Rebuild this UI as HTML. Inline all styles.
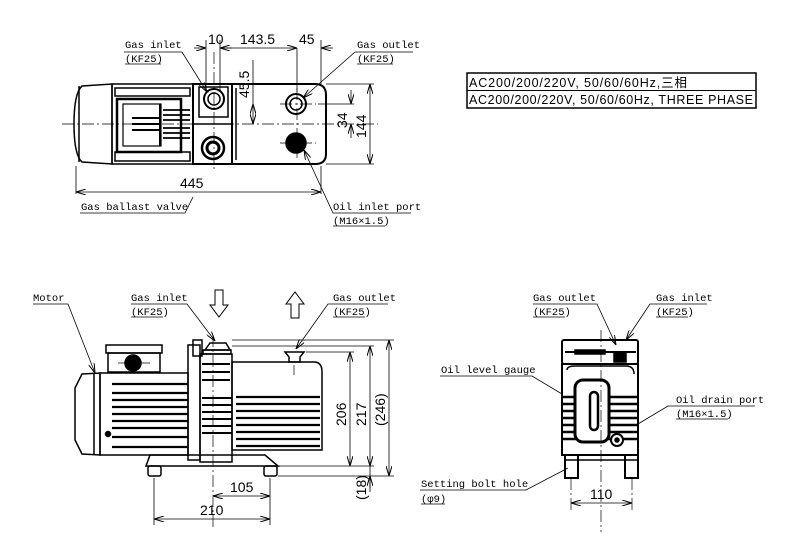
<!DOCTYPE html>
<html><head><meta charset="utf-8"><style>
html,body{margin:0;padding:0;background:#fff}
svg{display:block}
text{font-family:"Liberation Mono","Noto Sans CJK JP",monospace;font-size:10.5px;fill:#000;stroke:none}
.d{font-family:"Liberation Sans",sans-serif;font-size:14px}
</style></head><body>
<svg width="800" height="556" viewBox="0 0 800 556" xmlns="http://www.w3.org/2000/svg" stroke="#000" fill="none">
<defs>
<marker id="a" markerWidth="10" markerHeight="6" refX="10" refY="3" orient="auto-start-reverse" markerUnits="userSpaceOnUse"><path d="M0,0 L10,3 L0,6" stroke="#000" fill="none" stroke-width="1"/></marker>
</defs>

<!-- ========== TOP VIEW ========== -->
<g stroke-width="1.5">
<path d="M82,86 L112,84 L112,164 L82,162 Q74,155 74,124 Q74,93 82,86Z"/>
<line x1="79" y1="86" x2="79" y2="162"/>
<rect x="112" y="84" width="81" height="80"/>
<rect x="117" y="99" width="64" height="53" stroke-width="2.5"/>
<rect x="123" y="104" width="38" height="42" stroke-width="1.2"/>
<g stroke-width="2"><line x1="132" y1="118" x2="160" y2="118"/><line x1="132" y1="124" x2="160" y2="124"/><line x1="132" y1="130" x2="160" y2="130"/><line x1="160" y1="104" x2="160" y2="146"/></g>
<g stroke-width="1.8"><line x1="163" y1="110" x2="190" y2="110"/><line x1="163" y1="115" x2="190" y2="115"/><line x1="163" y1="120" x2="190" y2="120"/><line x1="163" y1="128" x2="190" y2="128"/><line x1="163" y1="133" x2="190" y2="133"/><line x1="163" y1="138" x2="190" y2="138"/></g>
<rect x="115" y="88" width="75" height="8"/><rect x="115" y="152" width="75" height="9"/>
<rect x="193" y="84" width="39" height="80" stroke-width="2"/>
<line x1="193" y1="124" x2="232" y2="124"/>
<rect x="199" y="87" width="29" height="30"/>
<circle cx="214" cy="99" r="10" stroke-width="2"/><circle cx="214" cy="99" r="6"/>
<circle cx="213" cy="148" r="11" stroke-width="2.5"/><circle cx="213" cy="148" r="6" stroke-width="3"/>
<path d="M232,84 L315,84 Q326,84 326,95 L326,154 Q326,164 315,164 L232,164Z" stroke-width="2"/>
<line x1="236" y1="88" x2="236" y2="160"/>
<circle cx="296" cy="104" r="10" stroke-width="2"/><circle cx="296" cy="104" r="6"/>
<circle cx="296" cy="143" r="10" fill="#000"/>
</g>
<g stroke-width="0.7" stroke-dasharray="12,3,2,3">
<line x1="62" y1="124" x2="378" y2="124"/><line x1="214" y1="52" x2="214" y2="172"/><line x1="297" y1="88" x2="297" y2="158"/>
<line x1="280" y1="104" x2="316" y2="104"/><line x1="280" y1="143" x2="316" y2="143"/>
</g>
<g stroke-width="0.8">
<line x1="76" y1="166" x2="76" y2="194"/><line x1="321" y1="166" x2="321" y2="194"/>
<line x1="76" y1="192" x2="321" y2="192" marker-start="url(#a)" marker-end="url(#a)"/>
<line x1="326" y1="84" x2="374" y2="84"/><line x1="326" y1="164" x2="374" y2="164"/>
<line x1="370" y1="84" x2="370" y2="164" marker-start="url(#a)" marker-end="url(#a)"/>
<line x1="318" y1="104" x2="354" y2="104"/>
<line x1="351" y1="90" x2="351" y2="104" marker-end="url(#a)"/><line x1="351" y1="138" x2="351" y2="124" marker-end="url(#a)"/>
<line x1="253" y1="104" x2="253" y2="124" marker-start="url(#a)" marker-end="url(#a)"/>
<line x1="253" y1="60" x2="253" y2="104"/>
<line x1="206" y1="40" x2="206" y2="90"/><line x1="220" y1="40" x2="220" y2="90"/>
<line x1="194" y1="48" x2="206" y2="48" marker-end="url(#a)"/><line x1="232" y1="48" x2="220" y2="48" marker-end="url(#a)"/>
<line x1="220" y1="48" x2="297" y2="48" marker-end="url(#a)"/>
<line x1="321" y1="40" x2="321" y2="84"/>
<line x1="297" y1="48" x2="297" y2="92"/>
<line x1="333" y1="48" x2="321" y2="48" marker-end="url(#a)"/>
<polyline points="124,52 182,52 207,92" marker-end="url(#a)"/>
<polyline points="413,52 355,52 303,98" marker-end="url(#a)"/>
<polyline points="80,213 185,213 193,197"/>
<polyline points="411,213 333,213 304,150" marker-end="url(#a)"/>
</g>
<text x="125" y="48">Gas inlet</text><text x="125" y="62">(KF25)</text>
<line x1="125" y1="64" x2="161" y2="64" stroke-width="0.8"/>
<text x="357" y="48">Gas outlet</text><text x="357" y="62">(KF25)</text>
<line x1="357" y1="64" x2="393" y2="64" stroke-width="0.8"/>
<text x="81" y="210">Gas ballast valve</text>
<text x="333" y="210">Oil inlet port</text><text x="333" y="224">(M16×1.5)</text>
<line x1="333" y1="226" x2="385" y2="226" stroke-width="0.8"/>
<text class="d" x="208" y="44">10</text><text class="d" x="240" y="44">143.5</text><text class="d" x="299" y="44">45</text>
<text class="d" x="180" y="188">445</text>
<text class="d" transform="translate(249,98) rotate(-90)">45.5</text>
<text class="d" transform="translate(347,128) rotate(-90)">34</text>
<text class="d" transform="translate(366,138) rotate(-90)">144</text>

<rect x="467" y="73" width="289" height="35" stroke-width="1.5"/>
<line x1="467" y1="90.5" x2="756" y2="90.5" stroke-width="1"/>
<text x="469" y="87" textLength="218" lengthAdjust="spacing" style="font-family:'Liberation Sans','Noto Sans CJK JP',sans-serif;font-size:12.5px">AC200/200/220V,  50/60/60Hz,三相</text>
<text x="469" y="104" textLength="284" lengthAdjust="spacing" style="font-family:'Liberation Sans',sans-serif;font-size:12.5px">AC200/200/220V,  50/60/60Hz,  THREE PHASE</text>

<!-- ========== SIDE VIEW ========== -->
<g stroke-width="1.5">
<path d="M82,374 L100,373 L100,455 L82,454 L75,440 L75,388Z"/>
<line x1="94" y1="374" x2="94" y2="454"/>
<rect x="100" y="373" width="88" height="82"/>
<g stroke-width="2.2">
<line x1="112" y1="384" x2="188" y2="384"/><line x1="112" y1="393" x2="188" y2="393"/><line x1="112" y1="400" x2="188" y2="400"/><line x1="112" y1="407" x2="188" y2="407"/><line x1="112" y1="414" x2="188" y2="414"/><line x1="112" y1="421" x2="188" y2="421"/><line x1="112" y1="428" x2="188" y2="428"/><line x1="112" y1="437" x2="188" y2="437"/><line x1="112" y1="447" x2="188" y2="447"/>
</g>
<circle cx="108" cy="434" r="2.5" fill="#000"/>
<path d="M108,353 L160,353 L160,372 L108,372Z"/>
<rect x="106" y="345" width="56" height="8"/>
<circle cx="133" cy="363" r="8" fill="#000"/>
<rect x="188" y="345" width="12" height="115"/>
<rect x="193" y="340" width="9" height="16"/>
<rect x="200" y="354" width="32" height="108"/>
<g stroke-width="2"><line x1="202" y1="364" x2="230" y2="364"/><line x1="202" y1="372" x2="230" y2="372"/><line x1="202" y1="380" x2="230" y2="380"/><line x1="202" y1="398" x2="232" y2="398"/><line x1="202" y1="405" x2="232" y2="405"/><line x1="202" y1="412" x2="232" y2="412"/><line x1="202" y1="419" x2="232" y2="419"/><line x1="202" y1="426" x2="232" y2="426"/><line x1="202" y1="433" x2="232" y2="433"/></g>
<path d="M205,350 L210,343 L226,343 L230,350Z"/><rect x="203" y="350" width="28" height="4"/>
<path d="M232,362 L314,362 Q322,362 322,372 L322,450 L232,450Z"/>
<g stroke-width="2.2"><line x1="236" y1="397" x2="320" y2="397"/><line x1="236" y1="404" x2="320" y2="404"/><line x1="236" y1="411" x2="320" y2="411"/><line x1="236" y1="418" x2="320" y2="418"/><line x1="236" y1="425" x2="320" y2="425"/><line x1="236" y1="432" x2="320" y2="432"/><line x1="236" y1="439" x2="320" y2="439"/><line x1="236" y1="446" x2="320" y2="446"/></g>
<path d="M285,352 L304,352 L300,357 L300,362 L289,362 L289,357Z"/>
<path d="M150,455 L265,455 L278,466 L146,466Z"/>
<rect x="148" y="466" width="13" height="10" rx="2"/><rect x="264" y="466" width="13" height="10" rx="2"/>
</g>
<g stroke-width="0.7" stroke-dasharray="12,3,2,3">
<line x1="213" y1="335" x2="213" y2="530"/><line x1="294" y1="365" x2="294" y2="375"/>
<line x1="118" y1="363" x2="150" y2="363"/>
</g>
<path d="M215,290 L223,290 L223,305 L228,305 L219,317 L210,305 L215,305Z" stroke-width="1"/>
<path d="M291,318 L299,318 L299,304 L304,304 L295,292 L286,304 L291,304Z" stroke-width="1"/>
<g stroke-width="0.8">
<line x1="232" y1="340" x2="394" y2="340"/><line x1="232" y1="346" x2="374" y2="346"/><line x1="306" y1="352" x2="354" y2="352"/>
<line x1="278" y1="466" x2="374" y2="466"/><line x1="278" y1="476" x2="394" y2="476"/>
<line x1="350" y1="352" x2="350" y2="466" marker-start="url(#a)" marker-end="url(#a)"/>
<line x1="370" y1="346" x2="370" y2="466" marker-start="url(#a)" marker-end="url(#a)"/>
<line x1="389" y1="340" x2="389" y2="476" marker-start="url(#a)" marker-end="url(#a)"/>
<line x1="370" y1="466" x2="370" y2="492"/><line x1="370" y1="488" x2="370" y2="476" marker-end="url(#a)"/>
<line x1="154" y1="478" x2="154" y2="525"/><line x1="270" y1="478" x2="270" y2="525"/>
<line x1="213" y1="496" x2="270" y2="496" marker-start="url(#a)" marker-end="url(#a)"/>
<line x1="154" y1="519" x2="270" y2="519" marker-start="url(#a)" marker-end="url(#a)"/>
<polyline points="33,304 68,304 95,373" marker-end="url(#a)"/>
<polyline points="131,304 187,304 215,341" marker-end="url(#a)"/>
<polyline points="388,304 328,304 296,349" marker-end="url(#a)"/>
</g>
<text x="33" y="301">Motor</text>
<text x="131" y="301">Gas inlet</text><text x="131" y="315">(KF25)</text><line x1="131" y1="317" x2="163" y2="317" stroke-width="0.8"/>
<text x="333" y="301">Gas outlet</text><text x="333" y="315">(KF25)</text><line x1="333" y1="317" x2="365" y2="317" stroke-width="0.8"/>
<text class="d" x="230" y="492">105</text><text class="d" x="200" y="515">210</text>
<text class="d" transform="translate(346,426) rotate(-90)">206</text>
<text class="d" transform="translate(366,426) rotate(-90)">217</text>
<text class="d" transform="translate(385,426) rotate(-90)">(246)</text>
<text class="d" transform="translate(366,500) rotate(-90)">(18)</text>

<!-- ========== FRONT VIEW ========== -->
<g stroke-width="1.5">
<rect x="562" y="340" width="76" height="24" rx="2" stroke-width="2"/>
<line x1="565" y1="352" x2="636" y2="352" stroke-width="2"/>
<rect x="575" y="350" width="30" height="4" fill="#000"/>
<rect x="614" y="352" width="12" height="10" fill="#000"/>
<path d="M562,364 L638,364 L638,455 L562,455Z" stroke-width="2"/>
<path d="M567,370 Q567,366 575,366 L626,366 Q634,366 634,374"/>
<g stroke-width="2.5"><line x1="563" y1="397" x2="637" y2="397"/><line x1="563" y1="404" x2="637" y2="404"/><line x1="563" y1="411" x2="637" y2="411"/><line x1="563" y1="418" x2="637" y2="418"/><line x1="563" y1="425" x2="637" y2="425"/><line x1="563" y1="432" x2="637" y2="432"/><line x1="563" y1="439" x2="637" y2="439"/></g>
<rect x="575" y="380" width="34" height="62" rx="8" fill="#fff" stroke-width="3"/>
<rect x="590" y="392" width="8" height="38" rx="4" stroke-width="2.5"/>
<circle cx="617" cy="440" r="6" fill="#fff" stroke-width="2"/><circle cx="617" cy="440" r="2" fill="#000"/>
<rect x="565" y="455" width="13" height="23" stroke-width="2"/><rect x="625" y="455" width="13" height="23" stroke-width="2"/>
<line x1="565" y1="460" x2="638" y2="460"/>
</g>
<g stroke-width="0.7" stroke-dasharray="12,3,2,3">
<line x1="601" y1="330" x2="601" y2="532"/><line x1="571" y1="478" x2="571" y2="510"/><line x1="632" y1="478" x2="632" y2="510"/>
</g>
<g stroke-width="0.8">
<line x1="571" y1="503" x2="632" y2="503" marker-start="url(#a)" marker-end="url(#a)"/>
<polyline points="533,304 597,304 616,345" marker-end="url(#a)"/>
<polyline points="707,304 650,304 626,340" marker-end="url(#a)"/>
<polyline points="440,376 532,376 562,394"/>
<polyline points="755,406 668,406 638,424"/>
<polyline points="420,490 526,490 568,468"/>
</g>
<text x="533" y="301">Gas outlet</text><text x="533" y="315">(KF25)</text><line x1="533" y1="317" x2="565" y2="317" stroke-width="0.8"/>
<text x="656" y="301">Gas inlet</text><text x="656" y="315">(KF25)</text><line x1="656" y1="317" x2="688" y2="317" stroke-width="0.8"/>
<text x="441" y="373">Oil level gauge</text>
<text x="676" y="403">Oil drain port</text><text x="676" y="417">(M16×1.5)</text><line x1="676" y1="419" x2="728" y2="419" stroke-width="0.8"/>
<text x="421" y="487">Setting bolt hole</text><text x="421" y="502">(φ9)</text><line x1="421" y1="504" x2="445" y2="504" stroke-width="0.8"/>
<text class="d" x="590" y="499">110</text>
</svg>
</body></html>
